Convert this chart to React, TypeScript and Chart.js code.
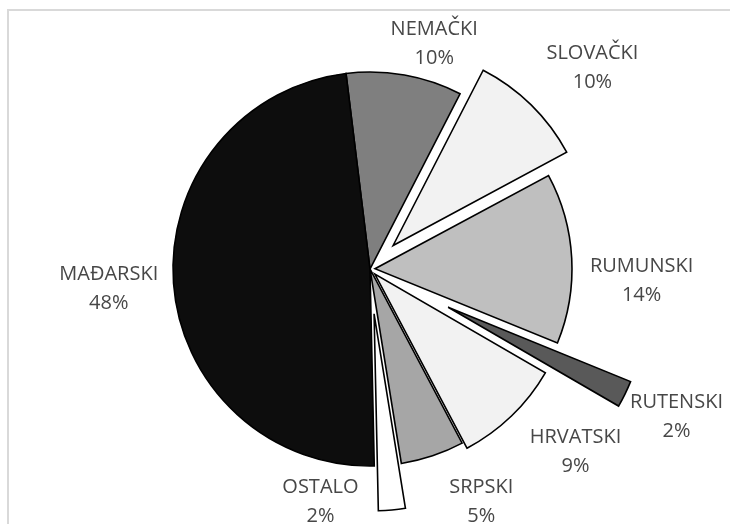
import React, { useEffect, useRef } from 'react';
import { Chart, registerables } from 'chart.js';

Chart.register(...registerables);

// ---- data ----
const categories = ['NEMAČKI', 'SLOVAČKI', 'RUMUNSKI', 'RUTENSKI', 'HRVATSKI', 'SRPSKI', 'OSTALO', 'MAĐARSKI'];
const shares = [9.5, 9.6, 14.0, 2.2, 8.9, 5.2, 2.2, 48.4];

// ---- styles / layout ----
const sliceColors = ['#7f7f7f', '#f2f2f2', '#bfbfbf', '#595959', '#f2f2f2', '#a6a6a6', '#ffffff', '#0d0d0d'];
const explodePx = [0, 33, 5, 87, 7, 0, 45, 0];
const labelAngleNudge = [5.8, 3.4, 5.5, -0.4, -4.5, -7.0, 17.2, -0.3];
const labelRadiusRatio = [1.19, 1.522, 1.38, 1.727, 1.395, 1.312, 1.21, 1.33];

const FONT = '20px "Open Sans"';
const LINE_GAP = 29;

const explodePlugin = {
  id: 'explodeSlices',
  beforeDatasetsDraw(chart: any) {
    const meta = chart.getDatasetMeta(0);
    const ctx = chart.ctx;
    meta.data.forEach((arc: any, i: number) => {
      const mid = (arc.startAngle + arc.endAngle) / 2;
      const d = explodePx[i] || 0;
      ctx.save();
      ctx.translate(Math.cos(mid) * d, Math.sin(mid) * d);
      arc.draw(ctx);
      ctx.restore();
    });
    return false;
  },
  afterDraw(chart: any) {
    const meta = chart.getDatasetMeta(0);
    const ctx = chart.ctx;
    const total = shares.reduce((a, b) => a + b, 0);
    ctx.save();
    ctx.font = FONT;
    ctx.fillStyle = '#474747';
    ctx.textAlign = 'center';
    ctx.textBaseline = 'middle';
    meta.data.forEach((arc: any, i: number) => {
      const mid = (arc.startAngle + arc.endAngle) / 2 + (labelAngleNudge[i] * Math.PI) / 180;
      const r = arc.outerRadius * labelRadiusRatio[i];
      const x = arc.x + Math.cos(mid) * r;
      const y = arc.y + Math.sin(mid) * r;
      const pct = Math.round((shares[i] / total) * 100) + '%';
      ctx.fillText(categories[i], x, y - LINE_GAP / 2);
      ctx.fillText(pct, x, y + LINE_GAP / 2);
    });
    ctx.restore();
  },
};

export default function App() {
  const ref = useRef<HTMLCanvasElement | null>(null);
  useEffect(() => {
    if (!ref.current) return;
    const chart = new Chart(ref.current, {
      type: 'pie',
      data: {
        labels: categories,
        datasets: [
          {
            data: shares,
            backgroundColor: sliceColors,
            borderColor: '#000000',
            borderWidth: 1.6,
            borderJoinStyle: 'miter',
            hoverOffset: 0,
          } as any,
        ],
      },
      options: {
        animation: false,
        responsive: false,
        devicePixelRatio: 1,
        rotation: -7,
        radius: 197,
        layout: { padding: { left: 10, right: 0, top: 14, bottom: 0 } },
        events: [],
        plugins: {
          legend: { display: false },
          tooltip: { enabled: false },
        },
      } as any,
      plugins: [explodePlugin as any],
    });
    return () => chart.destroy();
  }, []);

  return (
    <div style={{ position: 'fixed', left: 0, top: 0, width: 730, height: 524, background: '#fff', overflow: 'hidden' }}>
      <div
        style={{
          position: 'absolute',
          left: 7,
          top: 9,
          width: 900,
          height: 900,
          borderTop: '2px solid #d9d9d9',
          borderLeft: '2px solid #d9d9d9',
          boxSizing: 'border-box',
        }}
      />
      <canvas ref={ref} width={730} height={524} style={{ position: 'absolute', left: 0, top: 0, width: 730, height: 524 }} />
    </div>
  );
}
